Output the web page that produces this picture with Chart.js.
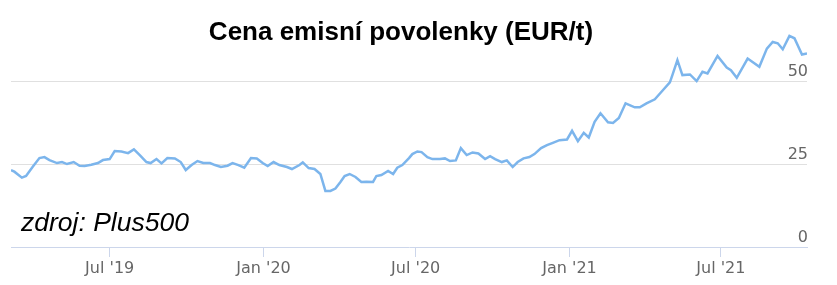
<!DOCTYPE html>
<html>
<head>
<meta charset="utf-8">
<script src="https://cdn.jsdelivr.net/npm/chart.js@4"></script>
<style>
  body { margin: 0; background: white; }
</style>
</head>
<body>
<canvas id="priceChart" width="837" height="285"></canvas>
<script>
// DATA (weekly price of EU emission allowance, EUR/t)
const dates = [
  "2019-03-05", "2019-03-09", "2019-03-18", "2019-03-23", "2019-03-31", "2019-04-08", "2019-04-14", "2019-04-20",
  "2019-04-29", "2019-05-05", "2019-05-11", "2019-05-19", "2019-05-26", "2019-06-01", "2019-06-09", "2019-06-17",
  "2019-06-23", "2019-07-01", "2019-07-07", "2019-07-15", "2019-07-23", "2019-07-30", "2019-08-06", "2019-08-14",
  "2019-08-19", "2019-08-26", "2019-09-01", "2019-09-08", "2019-09-17", "2019-09-24", "2019-09-30", "2019-10-07",
  "2019-10-14", "2019-10-21", "2019-10-29", "2019-11-04", "2019-11-11", "2019-11-19", "2019-11-25", "2019-12-02",
  "2019-12-09", "2019-12-17", "2019-12-24", "2019-12-31", "2020-01-06", "2020-01-13", "2020-01-20", "2020-01-29",
  "2020-02-04", "2020-02-13", "2020-02-17", "2020-02-24", "2020-03-02", "2020-03-09", "2020-03-15", "2020-03-21",
  "2020-03-27", "2020-04-02", "2020-04-07", "2020-04-13", "2020-04-20", "2020-04-27", "2020-05-03", "2020-05-11",
  "2020-05-15", "2020-05-21", "2020-05-29", "2020-06-04", "2020-06-09", "2020-06-15", "2020-06-23", "2020-06-27",
  "2020-07-03", "2020-07-08", "2020-07-15", "2020-07-21", "2020-07-30", "2020-08-05", "2020-08-11", "2020-08-18",
  "2020-08-24", "2020-08-31", "2020-09-07", "2020-09-14", "2020-09-22", "2020-09-28", "2020-10-04", "2020-10-12",
  "2020-10-18", "2020-10-25", "2020-10-31", "2020-11-07", "2020-11-14", "2020-11-20", "2020-11-28", "2020-12-05",
  "2020-12-12", "2020-12-20", "2020-12-29", "2021-01-04", "2021-01-11", "2021-01-18", "2021-01-24", "2021-01-31",
  "2021-02-07", "2021-02-16", "2021-02-22", "2021-03-01", "2021-03-09", "2021-03-20", "2021-03-26", "2021-04-03",
  "2021-04-13", "2021-04-21", "2021-05-01", "2021-05-04", "2021-05-10", "2021-05-16", "2021-05-25", "2021-06-02",
  "2021-06-09", "2021-06-15", "2021-06-27", "2021-07-08", "2021-07-13", "2021-07-20", "2021-08-02", "2021-08-16",
  "2021-08-25", "2021-09-01", "2021-09-07", "2021-09-13", "2021-09-21", "2021-09-27", "2021-10-06", "2021-10-12"
];

const prices = [
  23.2, 22.7, 20.9, 21.4, 24.2, 26.8, 27.1, 26.2,
  25.3, 25.6, 25.0, 25.6, 24.5, 24.4, 24.8, 25.3,
  26.2, 26.5, 28.9, 28.8, 28.3, 29.4, 27.7, 25.6,
  25.3, 26.5, 25.2, 26.8, 26.7, 25.6, 23.2, 24.7,
  25.9, 25.3, 25.3, 24.7, 24.1, 24.5, 25.3, 24.7,
  23.9, 26.8, 26.7, 25.3, 24.4, 25.6, 24.7, 24.1,
  23.5, 24.7, 25.5, 23.8, 23.5, 22.0, 16.9, 16.9,
  17.6, 19.6, 21.4, 22.0, 21.1, 19.6, 19.7, 19.6,
  21.4, 21.7, 22.9, 22.0, 23.9, 24.7, 26.8, 28.0,
  28.8, 28.6, 27.1, 26.5, 26.5, 26.7, 25.9, 26.1,
  29.8, 27.7, 28.5, 28.2, 26.5, 27.4, 26.5, 25.6,
  26.1, 24.1, 25.6, 26.7, 27.1, 28.0, 29.8, 30.7,
  31.4, 32.2, 32.4, 35.0, 31.9, 34.4, 33.0, 37.7,
  40.3, 37.6, 37.4, 38.9, 43.3, 42.1, 42.1, 43.3,
  44.5, 46.8, 49.6, 51.8, 56.3, 51.8, 52.0, 50.0,
  52.8, 52.3, 57.6, 54.1, 53.3, 51.0, 56.8, 54.3,
  59.8, 61.8, 61.4, 59.6, 63.6, 62.9, 58.0, 58.3
];

const tickDates = ["2019-07-01", "2020-01-01", "2020-07-01", "2021-01-01", "2021-07-01"];
const tickLabels = ["Jul '19", "Jan '20", "Jul '20", "Jan '21", "Jul '21"];
const yTicks = [0, 25, 50];

const chartTitle = "Cena emisní povolenky (EUR/t)";
const sourceNote = "zdroj: Plus500";

function day(s) {
  return Date.parse(s + "T00:00:00Z") / 86400000;
}

// title + source note drawn over the plot, like the original
const textPlugin = {
  id: "overlayText",
  afterDraw(chart) {
    const c = chart.ctx;
    c.save();
    c.fillStyle = "#000";
    c.textBaseline = "alphabetic";
    c.textAlign = "center";
    c.font = "bold 26px 'Liberation Sans', Arial, sans-serif";
    c.fillText(chartTitle, 401, 40);
    c.textAlign = "left";
    c.font = "italic 26.5px 'Liberation Sans', Arial, sans-serif";
    c.fillText(sourceNote, 21, 231);
    c.restore();
  }
};

const ctx = document.getElementById("priceChart").getContext("2d");
const priceChart = new Chart(ctx, {
  type: "line",
  data: {
    datasets: [{
      label: "Cena",
      data: dates.map((d, i) => ({ x: day(d), y: prices[i] })),
      borderColor: "#7cb5ec",
      borderWidth: 2.5,
      pointRadius: 0,
      tension: 0,
      fill: false
    }]
  },
  options: {
    responsive: false,
    animation: false,
    devicePixelRatio: 1,
    layout: { padding: { left: 11, right: 30, top: 28, bottom: 0 } },
    plugins: {
      legend: { display: false },
      tooltip: { enabled: false },
      title: { display: false }
    },
    scales: {
      x: {
        type: "linear",
        min: day(dates[0]),
        max: day(dates[dates.length - 1]),
        afterBuildTicks: scale => {
          scale.ticks = tickDates.map(d => ({ value: day(d) }));
        },
        afterFit: scale => { scale.height = 38; },
        ticks: {
          autoSkip: false,
          maxRotation: 0,
          padding: 2,
          color: "#666",
          font: { family: "'DejaVu Sans', sans-serif", size: 16 },
          callback: (v, i) => tickLabels[i]
        },
        grid: {
          drawOnChartArea: false,
          drawTicks: true,
          tickLength: 10,
          color: "#ccd6eb"
        },
        border: { display: true, color: "#ccd6eb", width: 1 }
      },
      y: {
        position: "right",
        min: 0,
        max: 66,
        afterBuildTicks: scale => {
          scale.ticks = yTicks.map(v => ({ value: v }));
        },
        afterFit: scale => { scale.width = 0; },
        ticks: {
          mirror: true,
          padding: 1,
          labelOffset: -9,
          color: "#666",
          font: { family: "'DejaVu Sans', sans-serif", size: 16 }
        },
        grid: {
          drawTicks: false,
          color: c => (c.tick && c.tick.value === 0 ? "rgba(0,0,0,0)" : "#e0e0e0")
        },
        border: { display: false }
      }
    }
  },
  plugins: [textPlugin]
});
</script>
</body>
</html>
